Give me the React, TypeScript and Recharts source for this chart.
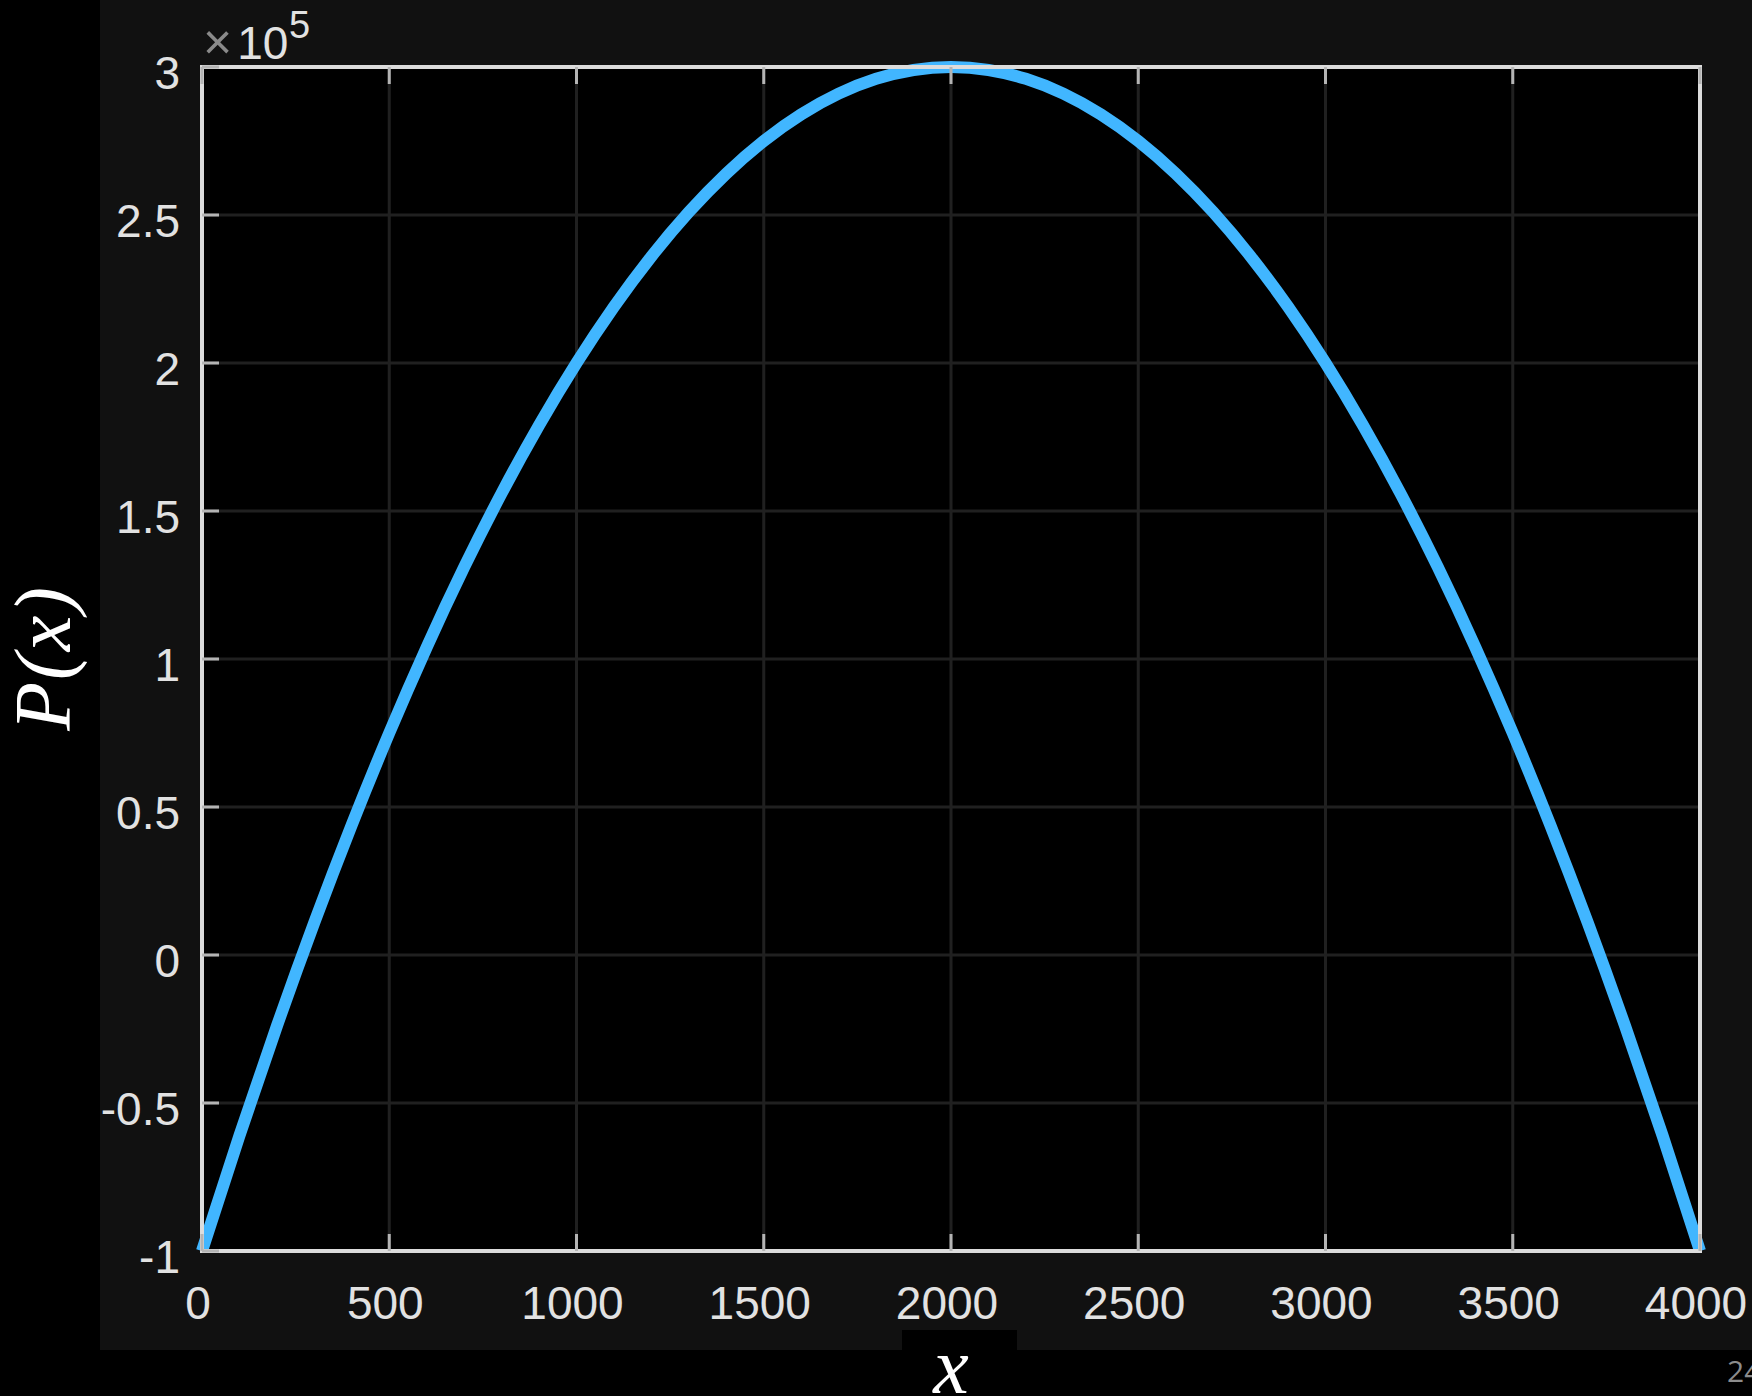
import React from 'react';
import { LineChart, Line, XAxis, YAxis, CartesianGrid } from 'recharts';

// x samples and P(x) (P in units of 1e5)
const xValues = [
  0, 100, 200, 300, 400, 500, 600, 700, 800, 900, 1000, 1100, 1200, 1300, 1400,
  1500, 1600, 1700, 1800, 1900, 2000, 2100, 2200, 2300, 2400, 2500, 2600, 2700,
  2800, 2900, 3000, 3100, 3200, 3300, 3400, 3500, 3600, 3700, 3800, 3900, 4000,
];
const pValues = [
  -1.0, -0.61, -0.24, 0.11, 0.44, 0.75, 1.04, 1.31, 1.56, 1.79, 2.0, 2.19, 2.36,
  2.51, 2.64, 2.75, 2.84, 2.91, 2.96, 2.99, 3.0, 2.99, 2.96, 2.91, 2.84, 2.75,
  2.64, 2.51, 2.36, 2.19, 2.0, 1.79, 1.56, 1.31, 1.04, 0.75, 0.44, 0.11, -0.24,
  -0.61, -1.0,
];
const xTicks = [0, 500, 1000, 1500, 2000, 2500, 3000, 3500, 4000];
const yTicks = [-1, -0.5, 0, 0.5, 1, 1.5, 2, 2.5, 3];

const data = xValues.map((x, i) => ({ x, p: pValues[i] }));

const TICK_LEN = 17;
const tickColor = '#b4b4b4';
const labelStyle = {
  fontFamily: '"Liberation Sans", Arial, sans-serif',
  fontSize: 46,
  fill: '#e2e2e2',
};
const frame = { stroke: '#dcdcdc', strokeWidth: 4, strokeLinecap: 'square' as const };

function BottomTick(props: any) {
  const { x, y, payload } = props;
  return (
    <g>
      <line x1={x} y1={y} x2={x} y2={y - TICK_LEN} stroke={tickColor} strokeWidth={3} />
      <text x={x - 4} y={y + 68} textAnchor="middle" {...labelStyle}>
        {payload.value}
      </text>
    </g>
  );
}

function TopTick(props: any) {
  const { x, y } = props;
  return <line x1={x} y1={y} x2={x} y2={y + TICK_LEN} stroke={tickColor} strokeWidth={3} />;
}

function LeftTick(props: any) {
  const { x, y, payload } = props;
  return (
    <g>
      <line x1={x} y1={y} x2={x + TICK_LEN} y2={y} stroke={tickColor} strokeWidth={3} />
      <text x={x - 22} y={y + 22} textAnchor="end" {...labelStyle}>
        {payload.value}
      </text>
    </g>
  );
}

function RightTick(props: any) {
  const { x, y } = props;
  return <line x1={x} y1={y} x2={x - TICK_LEN} y2={y} stroke={tickColor} strokeWidth={3} />;
}

export default function App() {
  return (
    <div
      style={{
        position: 'absolute',
        left: 0,
        top: 0,
        width: 1752,
        height: 1396,
        background: '#000',
        overflow: 'hidden',
      }}
    >
      {/* figure panel */}
      <div
        style={{ position: 'absolute', left: 100, top: 0, width: 1652, height: 1350, background: '#111111' }}
      />
      {/* black box behind the x label */}
      <div style={{ position: 'absolute', left: 902, top: 1330, width: 115, height: 66, background: '#000' }} />

      <div style={{ position: 'absolute', left: 0, top: 0 }}>
        <LineChart
          width={1752}
          height={1396}
          data={data}
          margin={{ top: 66, right: 51, bottom: 65, left: 0 }}
        >
          <CartesianGrid stroke="#202020" strokeWidth={3} fill="#000000" fillOpacity={1} />
          <XAxis
            dataKey="x"
            type="number"
            domain={[0, 4000]}
            ticks={xTicks}
            height={80}
            tickSize={0}
            tickMargin={0}
            tickLine={false}
            axisLine={frame}
            tick={BottomTick}
          />
          <XAxis
            xAxisId="top"
            dataKey="x"
            type="number"
            orientation="top"
            domain={[0, 4000]}
            ticks={xTicks}
            height={1}
            tickSize={0}
            tickMargin={0}
            tickLine={false}
            axisLine={frame}
            tick={TopTick}
          />
          <YAxis
            type="number"
            domain={[-1, 3]}
            ticks={yTicks}
            width={202}
            tickSize={0}
            tickMargin={0}
            tickLine={false}
            axisLine={frame}
            tick={LeftTick}
          />
          <YAxis
            yAxisId="right"
            type="number"
            orientation="right"
            domain={[-1, 3]}
            ticks={yTicks}
            width={1}
            tickSize={0}
            tickMargin={0}
            tickLine={false}
            axisLine={frame}
            tick={RightTick}
          />
          <Line
            type="monotone"
            dataKey="p"
            stroke="#41b6ff"
            strokeWidth={12}
            dot={false}
            isAnimationActive={false}
          />
        </LineChart>
      </div>

      {/* labels */}
      <svg
        width={1752}
        height={1396}
        style={{ position: 'absolute', left: 0, top: 0, pointerEvents: 'none' }}
      >
        <text x={203} y={59} fontFamily='"Liberation Sans", Arial, sans-serif' fontSize={46}>
          <tspan fill="#8a8a8a" fontSize={50}>×</tspan>
          <tspan fill="#e2e2e2" dx={5}>10</tspan>
        </text>
        <text x={289} y={38} fontFamily='"Liberation Sans", Arial, sans-serif' fontSize={38} fill="#e2e2e2">
          5
        </text>
        <text
          x={70}
          y={658}
          transform="rotate(-90, 70, 658)"
          textAnchor="middle"
          fontFamily='"Liberation Serif", "Times New Roman", serif'
          fontStyle="italic"
          fontSize={80}
          letterSpacing={2}
          fill="#ffffff"
        >
          P(x)
        </text>
        <text
          x={951}
          y={1393}
          textAnchor="middle"
          fontFamily='"Liberation Serif", "Times New Roman", serif'
          fontStyle="italic"
          fontSize={80}
          fill="#ffffff"
        >
          x
        </text>
        <text x={1727} y={1382} fontFamily='"Open Sans", "Noto Sans", sans-serif' fontSize={30} fill="#8c8c8c">
          24
        </text>
      </svg>
    </div>
  );
}
